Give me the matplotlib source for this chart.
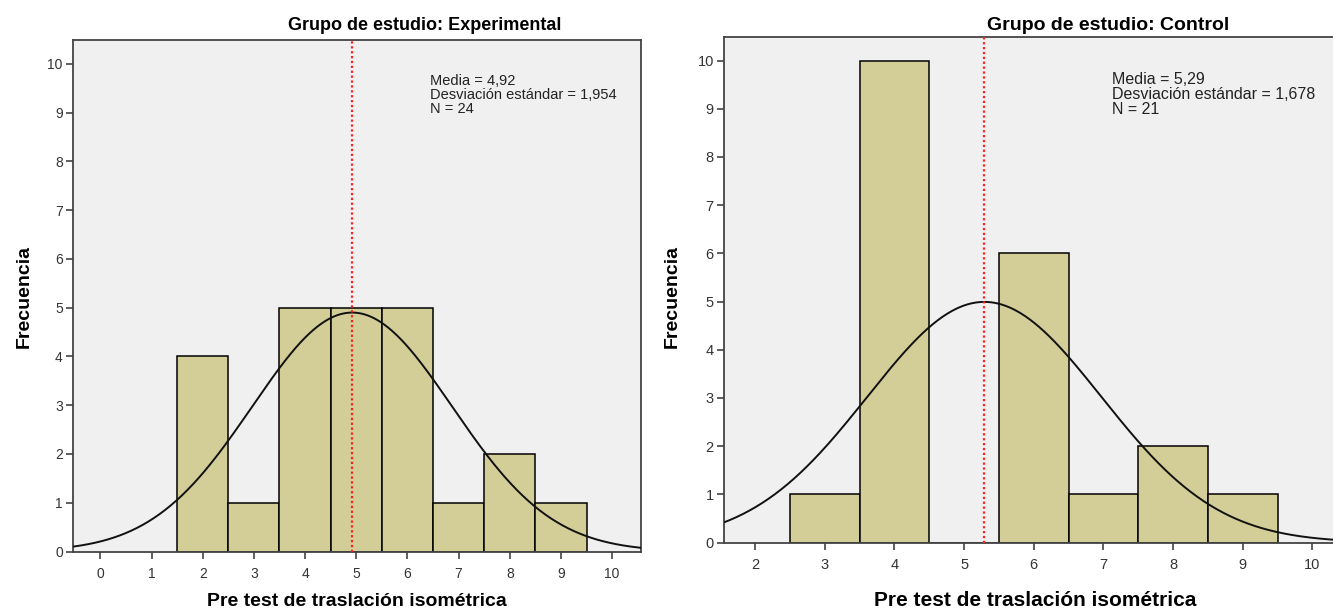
import numpy as np
import matplotlib
matplotlib.use("Agg")
import matplotlib.pyplot as plt

# Frequency tables (bin centres and counts) for each study group
exp_bins = [2, 3, 4, 5, 6, 7, 8, 9]
exp_counts = [4, 1, 5, 5, 5, 1, 2, 1]
exp_mean = 4.92
exp_sd = 1.954
exp_n = 24

ctl_bins = [3, 4, 5, 6, 7, 8, 9]
ctl_counts = [1, 10, 0, 6, 1, 2, 1]
ctl_mean = 5.29
ctl_sd = 1.678
ctl_n = 21

exp_xticks = list(range(0, 11))
ctl_xticks = list(range(2, 11))
yticks = list(range(0, 11))

BAR = "#d3ce97"
BG = "#f0f0f0"
TICKC = "#333333"
plt.rcParams["font.family"] = ["Liberation Sans", "DejaVu Sans"]

fig = plt.figure(figsize=(13.33, 6.11), dpi=100)
fig.patch.set_facecolor("white")

W, H = 1333.0, 611.0


def px_axes(x0, y0, x1, y1):
    return fig.add_axes([x0 / W, 1 - y1 / H, (x1 - x0) / W, (y1 - y0) / H])


def panel(ax, bins, counts, mean, sd, n, xticks, xlim, stats_xy, stats_fs,
          title, title_x, title_fs, xlabel_x, label_fs, ylabel_x, tick_fs):
    ax.set_facecolor(BG)
    ax.bar(bins, counts, width=1.0, color=BAR, edgecolor="black", linewidth=1.1, zorder=2)
    xs = np.linspace(xlim[0], xlim[1], 400)
    ys = n * 1.0 / (sd * np.sqrt(2 * np.pi)) * np.exp(-0.5 * ((xs - mean) / sd) ** 2)
    ax.plot(xs, ys, color="#111111", linewidth=1.4, zorder=3)
    ax.axvline(mean, color="#ff2020", linestyle=(0, (1, 1.2)), linewidth=1.6, zorder=4)
    ax.set_xlim(*xlim)
    ax.set_ylim(0, 10.5)
    ax.set_xticks(xticks)
    ax.set_yticks(yticks)
    ax.tick_params(axis="both", colors=TICKC, labelsize=tick_fs, width=1.1, length=5, direction="out")
    ax.tick_params(axis="x", pad=6)
    ax.tick_params(axis="y", pad=2)
    for s in ax.spines.values():
        s.set_color("#444444")
        s.set_linewidth(1.3)
    ax.text(stats_xy[0] / W, 1 - stats_xy[1] / H,
            "Media = %s\nDesviación estándar = %s\nN = %d"
            % (("%.2f" % mean).replace(".", ","), ("%.3f" % sd).replace(".", ","), n),
            transform=fig.transFigure, fontsize=stats_fs, color="#222222",
            va="top", ha="left", linespacing=0.98)
    fig.text(title_x / W, 1 - 25 / H, title, fontsize=title_fs, fontweight="bold",
             ha="center", va="center")
    fig.text(xlabel_x / W, 1 - 601 / H, "Pre test de traslación isométrica",
             fontsize=label_fs, fontweight="bold", ha="center", va="center")
    fig.text(ylabel_x / W, 1 - 297 / H, "Frecuencia", fontsize=14, fontweight="bold",
             ha="center", va="center", rotation=90)


ax1 = px_axes(72.5, 39.5, 640.5, 551.5)
panel(ax1, exp_bins, exp_counts, exp_mean, exp_sd, exp_n, exp_xticks, (-0.545, 10.555),
      (430, 74), 10.5, "Grupo de estudio: Experimental", 425, 13, 357, 14, 24, 10)

ax2 = px_axes(723.5, 36.5, 1366, 542.5)
panel(ax2, ctl_bins, ctl_counts, ctl_mean, ctl_sd, ctl_n, ctl_xticks, (1.545, 10.77),
      (1112, 72), 11.5, "Grupo de estudio: Control", 1108, 14, 1035, 15, 672, 10.5)

fig.savefig("out.png", dpi=100, facecolor="white")
